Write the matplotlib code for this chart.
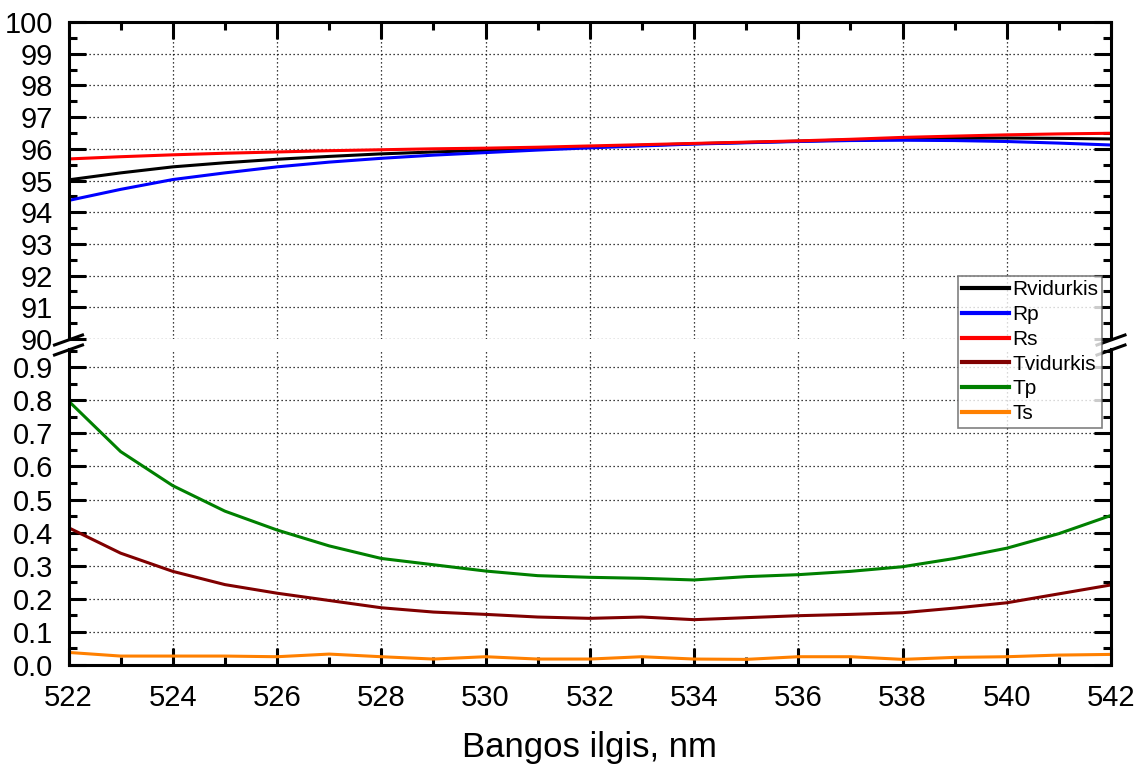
import numpy as np
import matplotlib
matplotlib.use("Agg")
import matplotlib.pyplot as plt
from matplotlib.lines import Line2D
from matplotlib.ticker import MultipleLocator, FormatStrFormatter

plt.rcParams['font.family'] = ['Liberation Sans', 'DejaVu Sans']

# wavelength, nm
wl = np.arange(522, 543)

# reflection, % (upper panel)
r_avg = [95.02, 95.24, 95.43, 95.56, 95.67, 95.76, 95.84, 95.90, 95.95, 96.01, 96.06,
         96.11, 96.16, 96.20, 96.24, 96.28, 96.32, 96.33, 96.34, 96.33, 96.31]
r_p = [94.37, 94.72, 95.03, 95.24, 95.43, 95.58, 95.70, 95.80, 95.88, 95.96, 96.03,
       96.09, 96.15, 96.19, 96.23, 96.26, 96.27, 96.26, 96.23, 96.18, 96.12]
r_s = [95.68, 95.75, 95.81, 95.86, 95.90, 95.94, 95.97, 96.00, 96.02, 96.05, 96.09,
       96.13, 96.17, 96.21, 96.25, 96.30, 96.36, 96.40, 96.44, 96.47, 96.49]

# transmission, % (lower panel)
t_avg = [0.415, 0.338, 0.283, 0.243, 0.217, 0.195, 0.173, 0.160, 0.153, 0.145, 0.141,
         0.145, 0.137, 0.143, 0.149, 0.153, 0.158, 0.172, 0.188, 0.215, 0.242]
t_p = [0.798, 0.645, 0.542, 0.465, 0.408, 0.360, 0.322, 0.303, 0.284, 0.270, 0.265,
       0.262, 0.257, 0.267, 0.273, 0.283, 0.297, 0.322, 0.353, 0.397, 0.452]
t_s = [0.038, 0.027, 0.027, 0.027, 0.025, 0.033, 0.025, 0.018, 0.025, 0.018, 0.018,
       0.025, 0.018, 0.017, 0.025, 0.025, 0.017, 0.023, 0.025, 0.030, 0.032]

top_series = [("Rvidurkis", r_avg, "black"), ("Rp", r_p, "#0000FF"), ("Rs", r_s, "#FF0000")]
bot_series = [("Tvidurkis", t_avg, "#800000"), ("Tp", t_p, "#008000"), ("Ts", t_s, "#FF8000")]

fig = plt.figure(figsize=(11.45, 7.64), dpi=100)
left, right = 68.5 / 1145, 1111 / 1145
H = 764
ax_top = fig.add_axes([left, 1 - 339 / H, right - left, (339 - 22) / H])
ax_bot = fig.add_axes([left, 1 - 665 / H, right - left, (665 - 349) / H])

lw = 2.2
handles = []
for name, vals, col in top_series:
    h, = ax_top.plot(wl, vals, color=col, lw=lw, label=name)
    handles.append(h)
for name, vals, col in bot_series:
    h, = ax_bot.plot(wl, vals, color=col, lw=lw, label=name)
    handles.append(h)

ax_top.set_ylim(90, 100)
ax_bot.set_ylim(0, 0.955)
for ax in (ax_top, ax_bot):
    ax.set_xlim(522, 542)
    ax.xaxis.set_major_locator(MultipleLocator(2))
    ax.xaxis.set_minor_locator(MultipleLocator(1))
    ax.grid(True, which='major', color='black', linestyle=(0, (1, 2.2)), lw=0.9)
    for s in ax.spines.values():
        s.set_linewidth(2.2)
    ax.tick_params(which='both', direction='in', width=2.2, labelsize=21, left=True, right=True)
    ax.tick_params(which='major', length=12)
    ax.tick_params(which='minor', length=6)
    ax.tick_params(axis='y', which='major', pad=11)

ax_top.yaxis.set_major_locator(MultipleLocator(1))
ax_top.yaxis.set_minor_locator(MultipleLocator(0.5))
ax_top.yaxis.set_major_formatter(FormatStrFormatter('%d'))
ax_top.spines['bottom'].set_visible(False)
ax_top.tick_params(axis='x', which='both', top=True, bottom=False, labelbottom=False)

ax_bot.yaxis.set_major_locator(MultipleLocator(0.1))
ax_bot.yaxis.set_minor_locator(MultipleLocator(0.05))
ax_bot.yaxis.set_major_formatter(FormatStrFormatter('%.1f'))
ax_bot.spines['top'].set_visible(False)
ax_bot.tick_params(axis='x', which='both', top=False, bottom=True)
ax_bot.tick_params(axis='x', which='major', pad=14)
ax_bot.set_xlabel("Bangos ilgis, nm", fontsize=25, labelpad=13)

# break marks on both sides
for xc in (68.5, 1111):
    for yc in (340, 350):
        x0, x1 = (xc - 14) / 1145, (xc + 14) / 1145
        y0, y1 = 1 - (yc + 5) / H, 1 - (yc - 5) / H
        fig.add_artist(Line2D([x0, x1], [y0, y1], color='black', lw=2.2,
                              transform=fig.transFigure, clip_on=False))

leg = fig.legend(handles=handles, loc='upper left',
                 bbox_to_anchor=(958 / 1145, 1 - 276 / H),
                 fontsize=15, frameon=True, fancybox=False, borderaxespad=0,
                 handlelength=2.25, handletextpad=0.15, labelspacing=0.28,
                 borderpad=0.2)
leg.get_frame().set_edgecolor('#606060')
leg.get_frame().set_linewidth(1.2)
for line in leg.get_lines():
    line.set_linewidth(3)

fig.savefig("out.png", dpi=100)
